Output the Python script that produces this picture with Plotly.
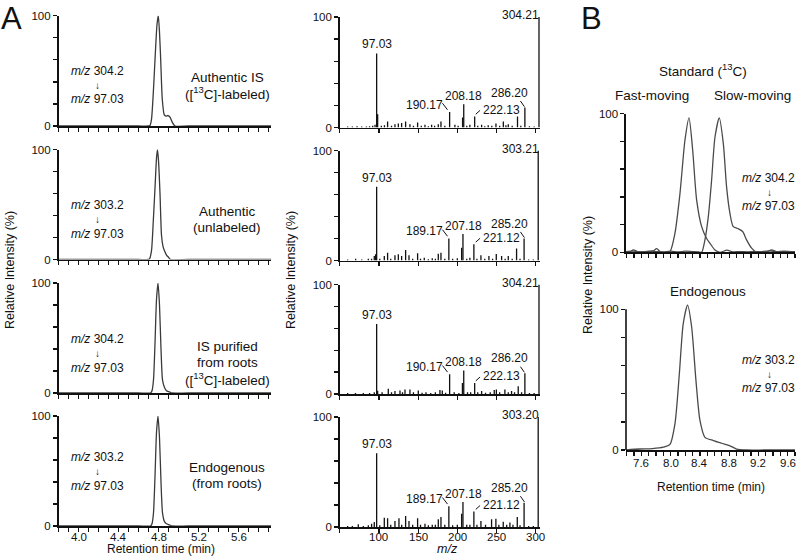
import plotly.graph_objects as go

W, H = 797, 560
FONT = "Liberation Sans, Arial, sans-serif"

# ---------------- data ----------------
# Panel A, left column: SRM chromatograms (retention time min, relative intensity %)
chrom1_t = [3.80, 4.60, 4.70, 4.715, 4.73, 4.748, 4.765, 4.785, 4.798, 4.81, 4.822, 4.838, 4.858, 4.875, 4.895, 4.915, 4.94, 4.965, 5.10, 5.925]
chrom1_i = [0, 0, 0, 0.5, 6, 30, 60, 92, 100, 85, 60, 24, 10, 9, 9.5, 8, 3, 0, 0, 0]
chrom2_t = [3.80, 4.60, 4.70, 4.71, 4.73, 4.748, 4.765, 4.78, 4.79, 4.80, 4.815, 4.83, 4.845, 4.86, 4.88, 4.90, 4.92, 5.10, 5.925]
chrom2_i = [0, 0, 0, 0.5, 8, 35, 65, 92, 100, 90, 60, 22, 12, 8, 4, 2, 0, 0, 0]
chrom3_t = [3.80, 4.60, 4.72, 4.735, 4.75, 4.765, 4.78, 4.795, 4.81, 4.825, 4.84, 4.86, 4.88, 4.91, 4.93, 5.10, 5.925]
chrom3_i = [0, 0, 0, 2, 12, 45, 85, 100, 80, 40, 12, 5, 2, 1, 0, 0, 0]
chrom4_t = [3.80, 4.60, 4.72, 4.735, 4.75, 4.765, 4.78, 4.795, 4.81, 4.825, 4.84, 4.86, 4.88, 4.91, 4.93, 5.10, 5.925]
chrom4_i = [0, 0, 0, 2, 12, 45, 85, 100, 80, 40, 12, 4, 2, 1, 0, 0, 0]

chrom_precursor = ["304.2", "303.2", "304.2", "303.2"]
chrom_product = ["97.03", "97.03", "97.03", "97.03"]
chrom_sample = [
    ["Authentic IS", "([<sup>13</sup>C]-labeled)"],
    ["Authentic", "(unlabeled)"],
    ["IS purified", "from roots", "([<sup>13</sup>C]-labeled)"],
    ["Endogenous", "(from roots)"],
]

# Panel A, right column: product-ion spectra (m/z, relative intensity %)
spec1 = [(60, 1), (66, 0.8), (72, 1.2), (78, 0.8), (84, 1), (88, 1.2), (92, 1.5), (95, 2.5),
         (97.03, 67), (98.3, 12), (103, 1.5), (107, 2), (111, 5.5), (116, 1.5), (120.4, 3),
         (124.7, 3.6), (128.9, 4), (134, 5.5), (139.5, 3), (144, 1.5), (149.3, 4.5), (154, 1.5),
         (158.7, 2.5), (163, 1.2), (167.2, 2.5), (171, 1.5), (175.7, 3), (179.1, 5.5), (184, 1.5),
         (190.17, 14), (196.9, 2.5), (201, 1.5), (206.7, 9), (208.18, 21), (212, 1.5), (216, 2.5),
         (222.13, 10), (226, 1.5), (231, 2.5), (235, 1.2), (239.4, 2), (244, 1.5), (249.3, 3.6),
         (254, 1.5), (258.7, 5.5), (262, 2), (265, 3), (270, 1.5), (276.8, 10), (281, 1.5),
         (286.20, 18), (292, 1.2), (298, 1), (304.21, 100)]
spec2 = [(60, 1), (70.2, 1.7), (78, 1), (86.4, 1.7), (90.6, 1.5), (94, 4), (95.7, 5.6),
         (97.03, 67), (101, 1.5), (106.8, 4), (111, 7), (115, 1.5), (120.4, 4.7), (124.7, 5.6),
         (128.9, 4), (134, 9.6), (138.3, 4.7), (143, 1.5), (149.3, 6.5), (153, 1.5), (157.8, 2.6),
         (163, 1.2), (168, 2), (172, 1.5), (175.7, 6.2), (179.1, 7), (184, 1.5), (189.17, 20),
         (194, 1.5), (200, 2), (205.5, 11.7), (207.18, 24), (212, 1.5), (216, 2.5), (221.12, 14.7),
         (225, 1.5), (230.1, 4.7), (235, 1.5), (240.3, 4), (245, 1.5), (249.7, 6), (256.5, 4),
         (261, 1.5), (265, 4), (270, 1.5), (275.6, 10.8), (280, 1.5), (285.20, 20), (291, 1),
         (297, 1), (303.21, 100)]
spec3 = [(60, 0.8), (70, 1), (80, 0.8), (88, 1), (94, 1.5), (97.03, 64), (98.3, 3), (104, 1.5),
         (111.9, 4.8), (116, 1.5), (120.4, 2.7), (126.8, 3.3), (130, 1.5), (133.2, 4.2),
         (139.5, 4), (144, 1.5), (150.2, 3.3), (155, 1.2), (160, 1.5), (166, 1), (172, 1.5),
         (177.8, 3.6), (180.8, 3.3), (185, 1.2), (190.17, 18), (196, 1.5), (202, 1), (206.5, 10),
         (208.18, 21.5), (213, 1.5), (217, 1.5), (222.13, 10), (226, 1.5), (231, 2.7), (236, 1.2),
         (242, 1.5), (247.1, 3.6), (249.8, 4.2), (254, 1.5), (260.7, 4.2), (265, 1.5),
         (269.2, 2.7), (273, 1.5), (277.7, 7), (282, 1.5), (286.20, 19), (292, 1), (298, 1),
         (304.21, 100)]
spec4 = [(60, 1), (66, 0.8), (73.6, 2.4), (80, 1), (86.4, 1.5), (90.6, 3), (94, 4.5),
         (97.03, 67), (101, 1.5), (106.8, 8.5), (111, 7.9), (115, 2), (120.4, 5.5), (125.5, 7.9),
         (129, 2), (134, 10), (138.3, 5.5), (143, 2), (149.3, 7.9), (153, 2), (158.7, 3),
         (163, 1.5), (168, 2), (172, 2), (175.7, 7), (179.1, 9), (184, 2), (189.17, 18.8),
         (194, 1.5), (200, 2), (205.5, 12), (207.18, 22.7), (212, 2), (216, 2), (221.12, 14),
         (225, 2), (230.1, 5.5), (236, 2), (243.7, 7), (249.2, 7.6), (253, 2), (258.6, 4.8),
         (263, 2), (267.1, 4), (271, 2), (276.5, 9), (280, 1.5), (285.20, 22), (291, 1),
         (297, 1), (303.20, 100)]

spec1_labels = [(97.03, "97.03"), (190.17, "190.17"), (208.18, "208.18"), (222.13, "222.13"), (286.20, "286.20"), (304.21, "304.21")]
spec2_labels = [(97.03, "97.03"), (189.17, "189.17"), (207.18, "207.18"), (221.12, "221.12"), (285.20, "285.20"), (303.21, "303.21")]
spec3_labels = [(97.03, "97.03"), (190.17, "190.17"), (208.18, "208.18"), (222.13, "222.13"), (286.20, "286.20"), (304.21, "304.21")]
spec4_labels = [(97.03, "97.03"), (189.17, "189.17"), (207.18, "207.18"), (221.12, "221.12"), (285.20, "285.20"), (303.20, "303.20")]

# Panel B: chromatograms of the two standard isomers and endogenous compound
fast_t = [7.39, 7.45, 7.49, 7.55, 7.62, 7.70, 7.76, 7.81, 7.86, 7.93, 7.991, 8.059, 8.128, 8.196, 8.251,
          8.301, 8.355, 8.424, 8.492, 8.538, 8.606, 8.674, 8.77, 8.85, 8.95, 9.05, 9.15, 9.25, 9.32,
          9.38, 9.45, 9.55, 9.62, 9.70]
fast_i = [0.5, 0.5, 1.7, 0.5, 0.3, 0.5, 1, 2.6, 0.3, 0, 0.5, 13.7, 42.5, 81, 97, 74, 38, 18.5, 10,
          6.5, 1.7, 0, 1.5, 0.3, 0.5, 0.3, 0.5, 0.3, 0.5, 1.7, 0.3, 0.5, 0.3, 0.5]
slow_t = [7.39, 7.50, 7.60, 7.70, 7.80, 7.90, 8.00, 8.10, 8.20, 8.30, 8.38, 8.424, 8.469, 8.515, 8.56,
          8.606, 8.665, 8.72, 8.765, 8.811, 8.856, 8.925, 8.984, 9.038, 9.107, 9.175, 9.25, 9.35,
          9.45, 9.55, 9.70]
slow_i = [0.5, 0.8, 0.3, 0.8, 0.5, 0.3, 0.8, 0.3, 0.8, 0.5, 0.3, 0, 9, 25.7, 52, 83, 97, 78.6, 47,
          28, 18.5, 17, 15, 9, 3, 0, 0.5, 1, 0.5, 0.8, 0.3]
endo_t = [7.39, 7.58, 7.75, 7.90, 7.991, 8.059, 8.119, 8.173, 8.232, 8.287, 8.346, 8.401, 8.469,
          8.583, 8.697, 8.811, 8.902, 9.038, 9.30, 9.70]
endo_i = [0, 0.7, 1, 2, 4, 18.6, 54, 90, 103, 87.6, 49.5, 21, 9, 6.7, 4.8, 3, 0.7, 0, 0, 0]

chromA_ticks = [round(3.8 + 0.1 * k, 1) for k in range(22)]
chromA_labels = [4.0, 4.4, 4.8, 5.2, 5.6]
spec_ticks = [50, 100, 150, 200, 250, 300]
spec_tick_labels = [100, 150, 200, 250, 300]
chromB_ticks = [round(7.4 + 0.1 * k, 1) for k in range(24)]
chromB_labels = [7.6, 8.0, 8.4, 8.8, 9.2, 9.6]
y_ticks = [0, 20, 40, 60, 80, 100]

# ---------------- layout helpers (pixel -> paper) ----------------
def px(x):
    return x / W


def py(y):
    return 1 - y / H


rowsA_left = [(15.7, 126), (149.5, 259.5), (283, 393), (416, 526)]
rowsA_right = [(17, 127.5), (150.5, 260.5), (284.5, 394), (417, 527)]
colA_left = (58.5, 271)
colA_right = (339.8, 540)
colB = (626, 795)
rowsB = [(113.7, 252.3), (309.3, 450)]

fig = go.Figure()
layout = {}
annotations = []
shapes = []

AX_COL = "#111111"
LINE_COL = "#3a3a3a"


def axis_names(n):
    return ("xaxis" if n == 1 else f"xaxis{n}", "yaxis" if n == 1 else f"yaxis{n}",
            "x" if n == 1 else f"x{n}", "y" if n == 1 else f"y{n}")


def fmt(v):
    return f"{v:.1f}" if isinstance(v, float) else str(v)


def add_axes(n, xdom, ydom, xrange, xticks, xlabels, label_y=None, yrange=(0, 100), yline=True):
    xa, ya, xr, yr = axis_names(n)
    layout[xa] = dict(domain=[px(xdom[0]), px(xdom[1])], range=list(xrange), anchor=yr,
                      showline=True, linecolor=AX_COL, linewidth=1.6, mirror=False,
                      ticks="outside", ticklen=4, tickwidth=1.3, tickcolor=AX_COL,
                      tickmode="array", tickvals=xticks, showticklabels=False, automargin=False,
                      showgrid=False, zeroline=False, fixedrange=True)
    layout[ya] = dict(domain=[py(ydom[1]), py(ydom[0])], range=list(yrange), anchor=xr,
                      showline=yline, linecolor=AX_COL, linewidth=1.6, automargin=False,
                      ticks="outside", ticklen=4, tickwidth=1.3, tickcolor=AX_COL,
                      tickmode="array", tickvals=y_ticks,
                      ticktext=["0", "", "", "", "", "100"],
                      showgrid=False, zeroline=False, fixedrange=True,
                      tickfont=dict(size=11.5, color="#111", family=FONT))
    if label_y is not None:
        for v in xlabels:
            annotations.append(dict(x=v, y=py(label_y), xref=xr, yref="paper", text=fmt(v),
                                    showarrow=False, xanchor="center", yanchor="middle",
                                    font=dict(size=11.5, color="#111", family=FONT)))
    return xr, yr


def ann(x, y, text, size=12, xanchor="center", yanchor="middle", **kw):
    d = dict(x=x, y=y, xref="paper", yref="paper", text=text, showarrow=False,
             xanchor=xanchor, yanchor=yanchor, font=dict(size=size, color="#111", family=FONT))
    d.update(kw)
    annotations.append(d)


# ---------------- Panel A left: chromatograms ----------------
chroms = [(chrom1_t, chrom1_i), (chrom2_t, chrom2_i), (chrom3_t, chrom3_i), (chrom4_t, chrom4_i)]
for r, (t, inten) in enumerate(chroms):
    n = r + 1
    xr, yr = add_axes(n, colA_left, rowsA_left[r], (3.8, 5.925), chromA_ticks, chromA_labels,
                      label_y=536.8 if r == 3 else None)
    fig.add_trace(go.Scatter(x=t, y=inten, mode="lines", xaxis=xr, yaxis=yr,
                             line=dict(color=LINE_COL, width=1.3, shape="spline", smoothing=0.6),
                             hoverinfo="skip", showlegend=False))

mz_label_y = [(70.7, 85, 99.3), (205, 219.5, 234), (339, 353.5, 368), (457.3, 471.7, 485.7)]
sample_label_y = [(78, 93.5), (211.5, 227.5), (346, 362, 378.5), (467.7, 483.3)]
for r in range(4):
    y1, ya, y2 = mz_label_y[r]
    ann(px(97), py(y1), f"<i>m/z</i> {chrom_precursor[r]}", size=12)
    ann(px(97), py(ya), "↓", size=10)
    ann(px(97), py(y2), f"<i>m/z</i> {chrom_product[r]}", size=12)
    for line, yy in zip(chrom_sample[r], sample_label_y[r]):
        ann(px(227), py(yy), line, size=13.5)

# ---------------- Panel A right: spectra ----------------
specs = [spec1, spec2, spec3, spec4]
spec_labels = [spec1_labels, spec2_labels, spec3_labels, spec4_labels]
for r, spec in enumerate(specs):
    n = 5 + r
    xr, yr = add_axes(n, colA_right, rowsA_right[r], (50, 305.5), spec_ticks, spec_tick_labels,
                      label_y=536.8 if r == 3 else None)
    xs, ys = [], []
    for m, h in spec:
        xs += [m, m, None]
        ys += [0, h, None]
    fig.add_trace(go.Scatter(x=xs, y=ys, mode="lines", xaxis=xr, yaxis=yr,
                             line=dict(color="#111", width=1.3),
                             hoverinfo="skip", showlegend=False))
    heights = dict(spec)
    labs = spec_labels[r]
    h = [heights[m] for m, _ in labs]
    annotations.append(dict(x=labs[0][0], y=h[0], xref=xr, yref=yr, text=labs[0][1], showarrow=False,
                            xanchor="center", yanchor="bottom", yshift=0,
                            font=dict(size=12, color="#111", family=FONT)))
    pos = [(158, h[1] + 6.5), (207.5, h[2] + 7.5), (256, h[3] + 6), (267, h[4] + 13.5)]
    for (m, txt), (lx, ly) in zip(labs[1:5], pos):
        annotations.append(dict(x=lx, y=ly, xref=xr, yref=yr, text=txt, showarrow=False,
                                xanchor="center", yanchor="middle",
                                font=dict(size=12, color="#111", family=FONT)))
    annotations.append(dict(x=281, y=1.0, xref=xr, yref=f"{yr} domain", text=labs[5][1],
                            showarrow=False, xanchor="center", yanchor="middle", yshift=2,
                            font=dict(size=12, color="#111", family=FONT)))
    leaders = [((181, h[1] + 8), (187.5, h[1] + 2)),
               ((223.5, h[3] + 2), (229, h[3] + 5.5)),
               ((280.5, h[4] + 6), (285.6, h[4] + 0.8))]
    for (x0, y0), (x1, y1) in leaders:
        shapes.append(dict(type="line", xref=xr, yref=yr, x0=x0, y0=y0, x1=x1, y1=y1,
                           line=dict(color="#111", width=1)))

# ---------------- Panel B ----------------
xr, yr = add_axes(9, colB, rowsB[0], (7.39, 9.70), chromB_ticks, chromB_labels)
for t, inten in [(fast_t, fast_i), (slow_t, slow_i)]:
    fig.add_trace(go.Scatter(x=t, y=inten, mode="lines", xaxis=xr, yaxis=yr,
                             line=dict(color="#4a4a4a", width=1.3, shape="spline", smoothing=0.7),
                             hoverinfo="skip", showlegend=False))
xr2, yr2 = add_axes(10, colB, rowsB[1], (7.39, 9.70), chromB_ticks, chromB_labels,
                    label_y=463.5, yrange=(0, 106), yline=False)
top100, bot0 = rowsB[1]
scale = (bot0 - top100) / 100
layout["yaxis10"]["domain"] = [py(bot0), py(bot0 - 106 * scale)]
fig.add_trace(go.Scatter(x=endo_t, y=endo_i, mode="lines", xaxis=xr2, yaxis=yr2,
                         line=dict(color="#4a4a4a", width=1.3, shape="spline", smoothing=0.7),
                         hoverinfo="skip", showlegend=False))
shapes.append(dict(type="line", xref="x10 domain", yref="y10", x0=0, x1=0, y0=0, y1=100,
                   line=dict(color=AX_COL, width=1.6)))

ann(px(703), py(70), "Standard (<sup>13</sup>C)", size=13.5)
ann(px(652), py(95), "Fast-moving", size=13.5)
ann(px(752), py(95), "Slow-moving", size=13.5)
ann(px(708), py(291), "Endogenous", size=13.5)
ann(px(768.5), py(178.3), "<i>m/z</i> 304.2", size=12)
ann(px(769), py(192.5), "↓", size=10)
ann(px(768.5), py(205.7), "<i>m/z</i> 97.03", size=12)
ann(px(768.5), py(360), "<i>m/z</i> 303.2", size=12)
ann(px(769), py(374.5), "↓", size=10)
ann(px(768.5), py(388.3), "<i>m/z</i> 97.03", size=12)

ann(px(10), py(270), "Relative Intensity (%)", size=12.5, textangle=-90)
ann(px(291), py(270), "Relative Intensity (%)", size=12.5, textangle=-90)
ann(px(588), py(275), "Relative Intensity (%)", size=12.5, textangle=-90)
ann(px(161), py(549), "Retention time (min)", size=12)
ann(px(447), py(549), "<i>m/z</i>", size=12.5)
ann(px(710.5), py(486.5), "Retention time (min)", size=12)

ann(px(11), py(19), "A", size=31)
ann(px(591), py(19), "B", size=31)

fig.update_layout(**layout)
fig.update_layout(width=W, height=H, margin=dict(l=0, r=0, t=0, b=0, autoexpand=False),
                  autosize=False, template="none",
                  paper_bgcolor="white", plot_bgcolor="white",
                  font=dict(family=FONT, color="#111"),
                  annotations=annotations, shapes=shapes, showlegend=False)

fig.write_html("out.html", config={"displayModeBar": False, "staticPlot": True},
               post_script="document.body.style.margin='0px';")
